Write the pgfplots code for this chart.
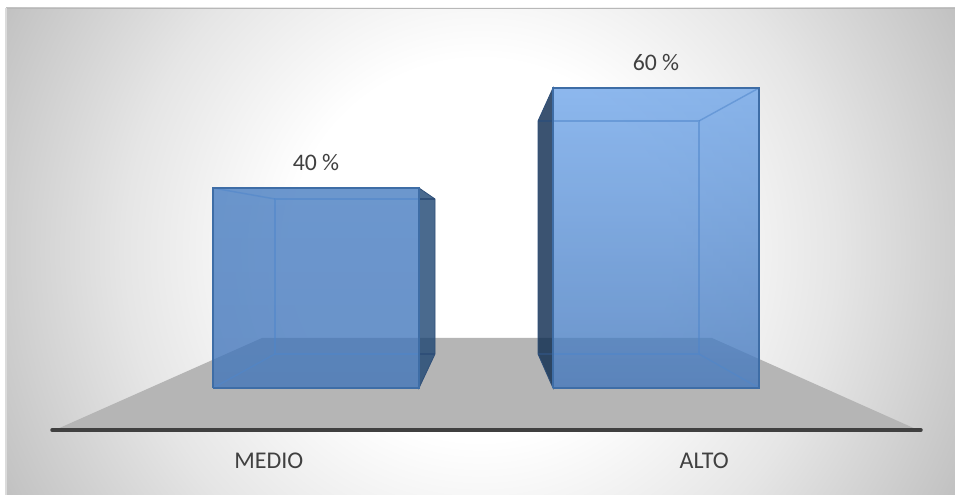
\documentclass[border=0pt]{standalone}
\usepackage{fontspec}
\setmainfont{Carlito}
\usepackage{pgfplots}
\pgfplotsset{compat=1.18}
\definecolor{labeltext}{HTML}{404040}
\definecolor{floorgray}{HTML}{B5B5B5}
\definecolor{edgefront}{HTML}{3E6DA6}
\definecolor{edgeback}{HTML}{4F86CB}
\definecolor{edgeside}{HTML}{2F4F78}
% Backdrop: circular glow fading from white to grey
\pgfdeclareradialshading{glow}{\pgfpointorigin}{%
  color(0bp)=(white);
  color(8.5bp)=(white);
  color(15.9bp)=(black!10);
  color(23.2bp)=(black!23);
  color(25bp)=(black!27);
  color(50bp)=(black!27)}
\begin{document}
\begin{tikzpicture}[x=0.75pt,y=0.75pt]
  \useasboundingbox (0,0) rectangle (955,495);
  \begin{scope}
    \clip (6,0) rectangle (955,487);
    \shade[shading=glow] (-80,-315) rectangle (1040,805);
  \end{scope}
  \draw[black!28,line width=1.1pt] (6,486.5) -- (955,486.5);
  \draw[black!14,line width=0.9pt] (6,0) -- (6,487);
  \begin{axis}[
    at={(38.25pt,48.75pt)},anchor=south west,
    scale only axis,width=653.25pt,height=294pt,
    xmin=51,xmax=922,ymin=-8.4,ymax=70,
    clip=false,
    axis y line=none,
    axis x line=bottom,
    x axis line style={-,draw=none},
    xtick={268.75,704.25},
    xticklabels={MEDIO,ALTO},
    major tick length=0pt,
    xtick style={draw=none},
    ytick=\empty,
    xticklabel style={font=\fontsize{18pt}{20pt}\selectfont,text=labeltext,
      anchor=center,yshift=-23.25pt},
    every node near coord/.style={font=\fontsize{17.8pt}{20pt}\selectfont,
      text=labeltext,anchor=center,yshift=18.75pt},
    inner/.style={draw=edgeback,line width=1.1pt,draw opacity=0.55},
    sideline/.style={draw=edgeside,line width=0.9pt},
  ]
    % floor
    \addplot[draw=none,fill=floorgray] coordinates
      {(55,-8.4) (262,10) (712,10) (918,-8.4)} --cycle;
    % front rim of the floor
    \addplot[draw=labeltext,line width=2.6pt,line cap=round] coordinates {(52,-8.4) (921,-8.4)};
    % side faces of the two boxes
    \addplot[draw=edgeside,line width=0.6pt,fill={rgb,255:red,29;green,69;blue,114},fill opacity=0.8]
      coordinates {(419,40) (435,37.8) (435,6.8) (419,0)} --cycle;
    \addplot[draw=edgeside,line width=0.6pt,fill={rgb,255:red,10;green,41;blue,78},fill opacity=0.8]
      coordinates {(553,60) (538,53.4) (538,6.8) (553,0)} --cycle;
    % front faces
    \addplot[draw=none,fill opacity=0.78,
      top color={rgb,255:red,67;green,122;blue,192},
      bottom color={rgb,255:red,64;green,116;blue,186}]
      coordinates {(213,0) (213,40) (419,40) (419,0)} --cycle;
    \addplot[draw=none,fill opacity=0.78,
      top color={rgb,255:red,109;green,164;blue,233},
      bottom color={rgb,255:red,65;green,118;blue,188}]
      coordinates {(553,0) (553,60) (759,60) (759,0)} --cycle;
    % inner edges seen through the boxes
    \addplot[inner] coordinates {(419,37.8) (275,37.8) (275,6.8) (419,6.8)};
    \addplot[inner] coordinates {(213,40) (275,37.8)};
    \addplot[inner] coordinates {(213,0) (275,6.8)};
    \addplot[inner] coordinates {(553,53.4) (699,53.4) (699,6.8) (553,6.8)};
    \addplot[inner] coordinates {(759,60) (699,53.4)};
    \addplot[inner] coordinates {(759,0) (699,6.8)};
    \addplot[sideline] coordinates {(419,37.8) (435,37.8)};
    \addplot[sideline] coordinates {(419,6.8) (435,6.8)};
    \addplot[sideline] coordinates {(538,53.4) (553,53.4)};
    \addplot[sideline] coordinates {(538,6.8) (553,6.8)};
    % front outlines
    \addplot[draw=edgefront,line width=1.4pt] coordinates
      {(213,0) (213,40) (419,40) (419,0) (213,0)};
    \addplot[draw=edgefront,line width=1.4pt] coordinates
      {(553,0) (553,60) (759,60) (759,0) (553,0)};
    % value labels
    \addplot[draw=none,nodes near coords={40 \%}] coordinates {(316,40)};
    \addplot[draw=none,nodes near coords={60 \%}] coordinates {(656,60)};
  \end{axis}
\end{tikzpicture}
\end{document}
